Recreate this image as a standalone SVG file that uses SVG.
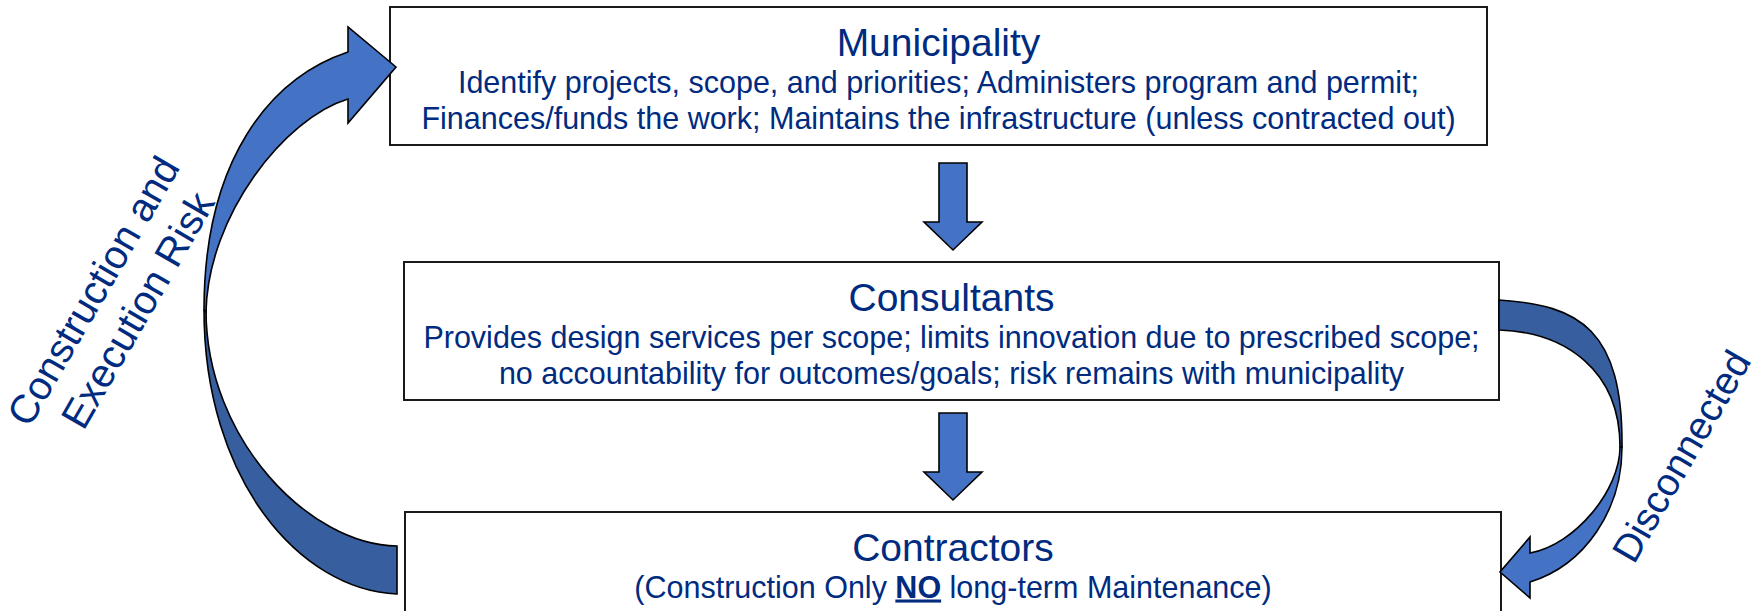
<svg xmlns="http://www.w3.org/2000/svg" width="1756" height="611" viewBox="0 0 1756 611">
  <style>
    .box { fill: #ffffff; stroke: #1a1a1a; stroke-width: 2; }
    .title { font-family: "Liberation Sans", Arial, sans-serif; font-size: 39px; fill: #002B7F; text-anchor: middle; }
    .body { font-family: "Liberation Sans", Arial, sans-serif; font-size: 30.5px; fill: #002B7F; text-anchor: middle; }
    .side { font-family: "Liberation Sans", Arial, sans-serif; font-size: 40px; fill: #002B7F; text-anchor: middle; }
    .front { fill: #4472C4; stroke: #000000; stroke-width: 1.6; stroke-linejoin: miter; }
    .back { fill: #375E9E; stroke: #000000; stroke-width: 1.6; stroke-linejoin: miter; }
    .strong { font-weight: bold; text-decoration: underline; }
  </style>

  <!-- Municipality -->
  <g id="municipality">
    <rect class="box" x="390" y="7" width="1097" height="138"/>
    <text class="title" x="938.5" y="56">Municipality</text>
    <text class="body" x="938.5" y="92.5">Identify projects, scope, and priorities; Administers program and permit;</text>
    <text class="body" x="938.5" y="129">Finances/funds the work; Maintains the infrastructure (unless contracted out)</text>
  </g>

  <!-- Consultants -->
  <g id="consultants">
    <rect class="box" x="404" y="262" width="1095" height="138"/>
    <text class="title" x="951.5" y="311">Consultants</text>
    <text class="body" x="951.5" y="347.5">Provides design services per scope; limits innovation due to prescribed scope;</text>
    <text class="body" x="951.5" y="384">no accountability for outcomes/goals; risk remains with municipality</text>
  </g>

  <!-- Contractors (box runs past the lower edge) -->
  <g id="contractors">
    <rect class="box" x="405" y="512" width="1096" height="150"/>
    <text class="title" x="953" y="561">Contractors</text>
    <text class="body" x="953" y="597.5">(Construction Only <tspan class="strong">NO</tspan> long-term Maintenance)</text>
  </g>

  <!-- Connectors -->
  <g id="connectors">
    <!-- Municipality to Consultants -->
    <polygon class="front" points="939,163 967,163 967,222 982,222 953,250 924,222 939,222"/>
    <!-- Consultants to Contractors -->
    <polygon class="front" points="939,413 967,413 967,472 982,472 953,500 924,472 939,472"/>

    <!-- Curved return arrow: Contractors back up to Municipality -->
    <path class="back" d="M 204,310 C 204,480 300,590 397,594 L 397,546 C 310,545 206,440 206,310 Z"/>
    <path class="front" d="M 204,310 C 204,160 270,78 348,52 L 348,27 L 396,67 L 348,123 L 348,99 C 285,118 208,215 206,312 Z"/>

    <!-- Curved arrow: Consultants down to Contractors -->
    <path class="back" d="M 1499,300 C 1580,305 1623,330 1622,447 L 1620,447 C 1620,370 1565,332 1499,330 Z"/>
    <path class="front" d="M 1622,447 C 1622,510 1585,565 1530,582 L 1530,598 L 1500,572 L 1530,537 L 1530,553 C 1575,545 1620,490 1620,447 Z"/>
  </g>

  <!-- Side labels -->
  <g id="label-risk">
    <text class="side" transform="translate(108,293) rotate(-60)">
      <tspan x="0" y="0">Construction and</tspan>
      <tspan x="0" y="48">Execution Risk</tspan>
    </text>
  </g>
  <g id="label-disconnected">
    <text class="side" style="font-size:39px" transform="translate(1693,463) rotate(-60)" x="0" y="0">Disconnected</text>
  </g>
</svg>
